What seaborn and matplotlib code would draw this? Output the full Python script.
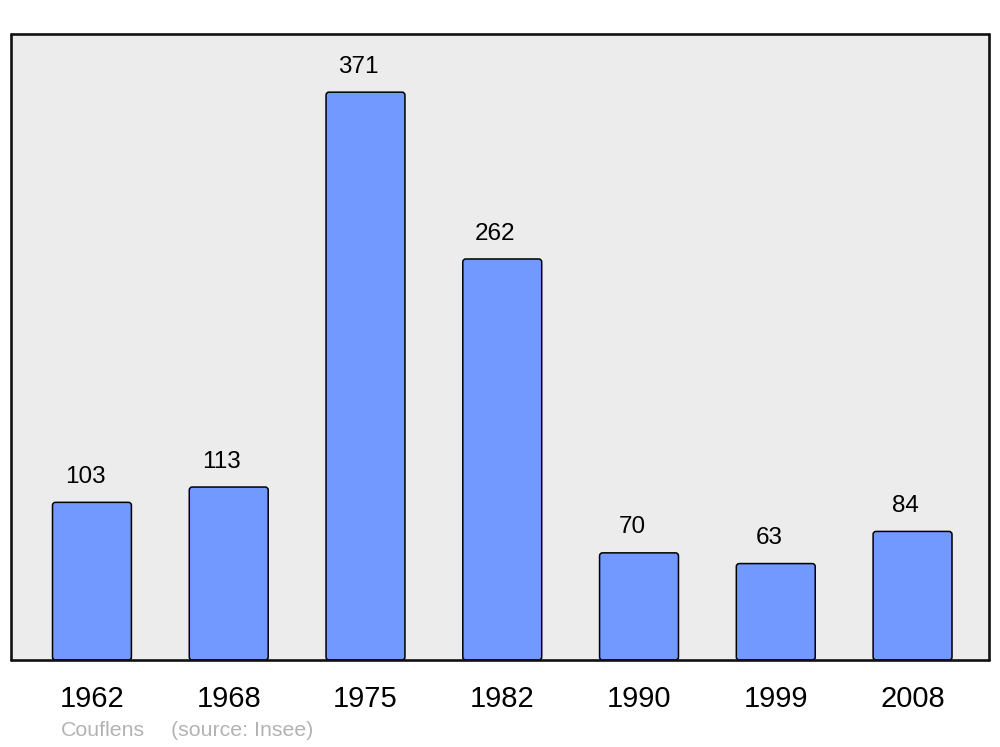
import matplotlib
matplotlib.use("Agg")
import matplotlib.pyplot as plt
from matplotlib.patches import FancyBboxPatch
import pandas as pd
import seaborn as sns

# population de Couflens (source: Insee)
annees = ['1962', '1968', '1975', '1982', '1990', '1999', '2008']
population = [103, 113, 371, 262, 70, 63, 84]
commune = 'Couflens'
source = '(source: Insee)'

sns.set_style('white')
plt.rcParams['font.family'] = ['Liberation Sans', 'DejaVu Sans']

df = pd.DataFrame({'annee': annees, 'population': population})

fig = plt.figure(figsize=(10, 7.47), dpi=100)
ax = fig.add_axes([0.011, 87 / 747, 0.978, 626 / 747])
ax.set_facecolor('#ececec')

sns.barplot(data=df, x='annee', y='population', ax=ax, color='#7299ff',
            saturation=1, width=0.577, edgecolor='black', linewidth=1.1)

# coins arrondis des barres
aspect = 1.96 / 0.022
for p in list(ax.patches):
    x, y = p.get_x(), p.get_y()
    w, h = p.get_width(), p.get_height()
    r = FancyBboxPatch((x, y), w, h,
                       boxstyle='round,pad=0,rounding_size=0.022',
                       mutation_aspect=aspect,
                       facecolor=p.get_facecolor(), edgecolor='black',
                       linewidth=1.1, zorder=2)
    p.remove()
    ax.add_patch(r)

# valeurs au dessus des barres
for i, v in enumerate(population):
    ax.annotate(str(v), (i, v), xytext=(-5, 14), textcoords='offset points',
                ha='center', va='baseline', fontsize=17.5, color='black')

ax.set_xlim(-0.592, 6.559)
ax.set_ylim(0, 409)
ax.set_yticks([])
ax.set_xlabel('')
ax.set_ylabel('')
ax.tick_params(axis='x', length=0, pad=18, labelsize=21, labelcolor='black')

for s in ax.spines.values():
    s.set_color('#111111')
    s.set_linewidth(1.9)
    s.set_joinstyle('round')
    s.set_capstyle('round')

fig.text(0.061, 1 - 730 / 747, commune, color='#b3b3b3',
         fontsize=15.4, va='center', ha='left')
fig.text(0.171, 1 - 730 / 747, source, color='#b3b3b3',
         fontsize=15.4, va='center', ha='left')

fig.savefig('out.png', dpi=100)
